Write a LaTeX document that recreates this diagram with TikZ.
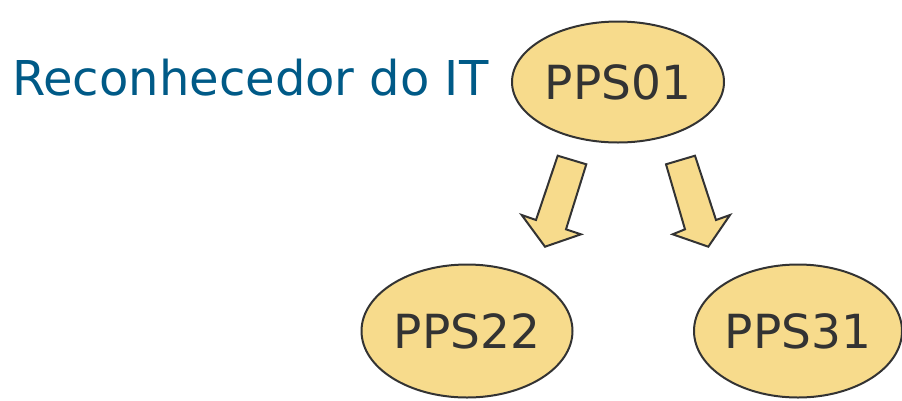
\documentclass[tikz,border=0pt]{standalone}
\usepackage{fontspec}
\setmainfont{DejaVu Sans}
\usetikzlibrary{shapes.geometric}
\definecolor{fillY}{RGB}{247,219,140}
\definecolor{lineG}{RGB}{51,51,51}
\definecolor{titleB}{RGB}{0,90,135}
\tikzset{
  oval/.style={ellipse, draw=lineG, line width=2pt, fill=fillY, inner sep=0pt,
    text=lineG, font=\fontsize{47}{56}\selectfont},
  blockarrow/.style={draw=lineG, line width=2pt, fill=fillY, line join=miter}
}
\begin{document}
\begin{tikzpicture}[x=1pt,y=-1pt]
\useasboundingbox (0,0) rectangle (902,400);
\node[anchor=base west, text=titleB, font=\fontsize{48}{57}\selectfont, inner sep=0pt] (title) at (12,95) {Reconhecedor do IT};
\node[oval, minimum width=212pt, minimum height=121pt] (p01) at (618,82) {PPS01};
\node[oval, minimum width=211pt, minimum height=133pt] (p22) at (467,331) {PPS22};
\node[oval, minimum width=208pt, minimum height=133pt] (p31) at (798,331) {PPS31};
\draw[blockarrow] (557.7,155.7) -- (586.3,164.3) -- (566,229.3) -- (581,234.3) -- (545,246.7) -- (521.7,215) -- (536,220) -- cycle;
\draw[blockarrow] (666,164.3) -- (695,155.7) -- (716,220) -- (730,215) -- (708.3,246.7) -- (672.7,234.3) -- (685,229.3) -- cycle;
\end{tikzpicture}
\end{document}
